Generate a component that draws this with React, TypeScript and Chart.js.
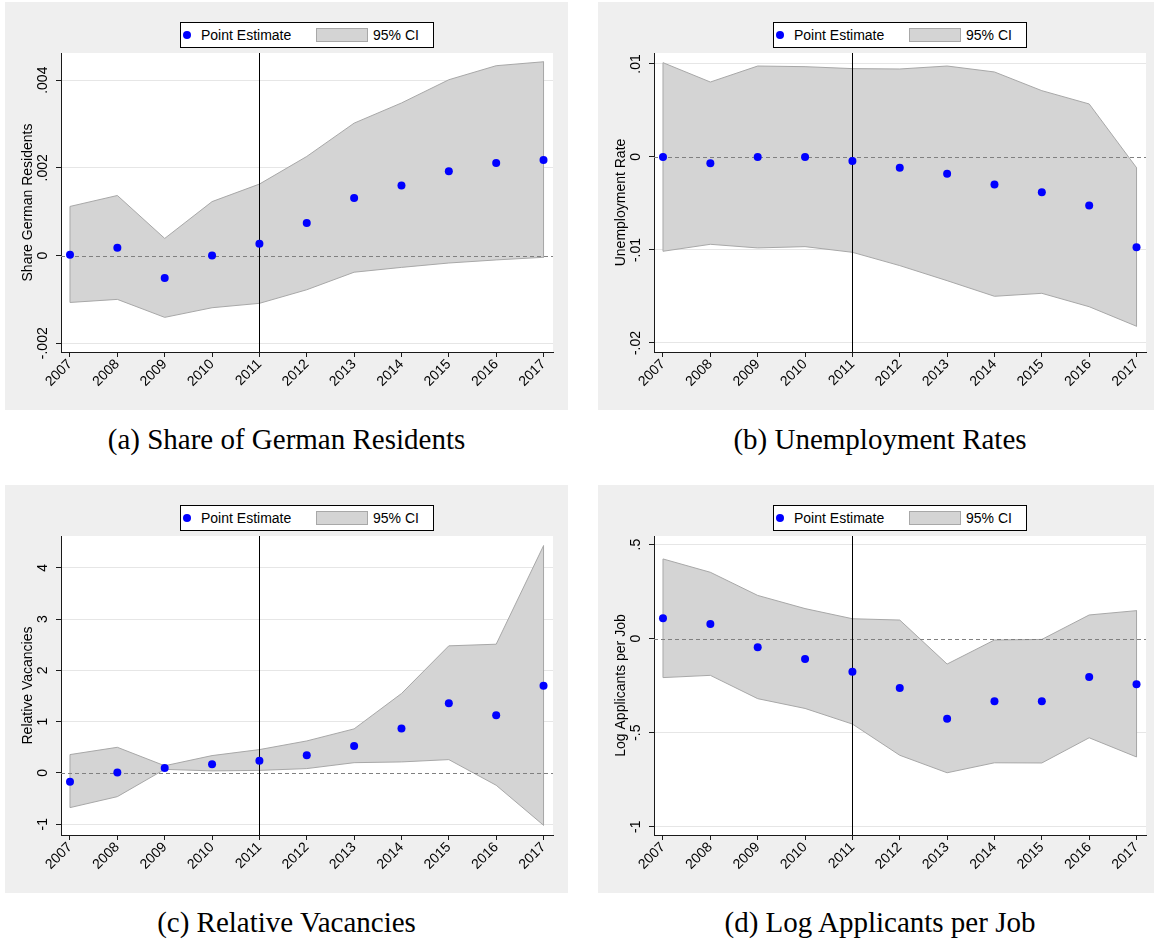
import React, { useEffect, useRef } from "react";
import { Chart, registerables } from "chart.js";

Chart.register(...registerables);

// ---------------- data ----------------
const YEARS = [2007, 2008, 2009, 2010, 2011, 2012, 2013, 2014, 2015, 2016, 2017];
const EVENT_YEAR = 2011;
const X_RANGE = [2006.81, 2017.2];

const SHARE_EST = [0.00002, 0.00018, -0.00051, 0.0, 0.00027, 0.00074, 0.00131, 0.0016, 0.00192, 0.00211, 0.00218];
const SHARE_HI = [0.00112, 0.00137, 0.00039, 0.00123, 0.00163, 0.00226, 0.00302, 0.00348, 0.00401, 0.00433, 0.00442];
const SHARE_LO = [-0.00107, -0.001, -0.00141, -0.00119, -0.00109, -0.00078, -0.00038, -0.00027, -0.00017, -0.0001, -0.00004];
const SHARE_TICKS = [-0.002, 0, 0.002, 0.004];
const SHARE_RANGE = [-0.0022, 0.00462];

const UNEMP_EST = [0, -0.00068, 0, 0, -0.00043, -0.00115, -0.0018, -0.00297, -0.0038, -0.00523, -0.0097];
const UNEMP_HI = [0.01014, 0.00806, 0.00978, 0.00971, 0.0095, 0.00946, 0.00978, 0.00914, 0.00713, 0.0057, -0.00115];
const UNEMP_LO = [-0.01014, -0.00939, -0.00978, -0.00964, -0.01025, -0.01168, -0.0133, -0.01498, -0.01466, -0.0161, -0.0182];
const UNEMP_TICKS = [-0.02, -0.01, 0, 0.01];
const UNEMP_RANGE = [-0.02097, 0.01118];

const VAC_EST = [-0.17, 0.007, 0.098, 0.169, 0.24, 0.345, 0.527, 0.865, 1.36, 1.125, 1.7];
const VAC_HI = [0.358, 0.5, 0.14, 0.338, 0.455, 0.624, 0.859, 1.548, 2.478, 2.51, 4.43];
const VAC_LO = [-0.676, -0.462, 0.07, 0.04, 0.05, 0.085, 0.2, 0.215, 0.26, -0.24, -1.02];
const VAC_TICKS = [-1, 0, 1, 2, 3, 4];
const VAC_RANGE = [-1.21, 4.62];

const APP_EST = [0.108, 0.078, -0.046, -0.108, -0.176, -0.262, -0.426, -0.333, -0.333, -0.204, -0.243];
const APP_HI = [0.424, 0.353, 0.23, 0.16, 0.106, 0.099, -0.135, -0.007, -0.004, 0.126, 0.149];
const APP_LO = [-0.207, -0.195, -0.319, -0.371, -0.454, -0.62, -0.713, -0.66, -0.661, -0.527, -0.629];
const APP_TICKS = [-1, -0.5, 0, 0.5];
const APP_RANGE = [-1.044, 0.546];

const SERIES_LABEL = "Point Estimate";
const BAND_LABEL = "95% CI";

// ---------------- styles ----------------
const SANS = "'Liberation Sans', Arial, Helvetica, sans-serif";
const SERIF = "'Liberation Serif', 'Times New Roman', serif";
const GREY_BG = "#efefef";
const BAND_FILL = "#d4d4d4";
const BAND_EDGE = "#a8a8a8";
const POINT_BLUE = "#0000ff";
const GRID = "#e6e6e6";
const AXIS = "#1a1a1a";
const ZERO_LINE = "#808080";

const TICK_LEN = 5;
const Y_LABEL_OFFSET = 18;
const X_LABEL_DROP = 10;
const Y_AXIS_W = 56;
const X_AXIS_H = 58;
const PLOT_TOP = 51;
const PLOT_W = 492;

const PANELS = [
  { id: "a", est: SHARE_EST, hi: SHARE_HI, lo: SHARE_LO, ticks: SHARE_TICKS, range: SHARE_RANGE,
    yTitle: "Share German Residents", caption: "(a) Share of German Residents",
    left: 5, top: 2, width: 563, height: 408, capLeft: 5, capWidth: 563, capTop: 421 },
  { id: "b", est: UNEMP_EST, hi: UNEMP_HI, lo: UNEMP_LO, ticks: UNEMP_TICKS, range: UNEMP_RANGE,
    yTitle: "Unemployment Rate", caption: "(b) Unemployment Rates",
    left: 598, top: 2, width: 556, height: 408, capLeft: 598, capWidth: 564, capTop: 421 },
  { id: "c", est: VAC_EST, hi: VAC_HI, lo: VAC_LO, ticks: VAC_TICKS, range: VAC_RANGE,
    yTitle: "Relative Vacancies", caption: "(c) Relative Vacancies",
    left: 5, top: 485, width: 563, height: 408, capLeft: 5, capWidth: 563, capTop: 904 },
  { id: "d", est: APP_EST, hi: APP_HI, lo: APP_LO, ticks: APP_TICKS, range: APP_RANGE,
    yTitle: "Log Applicants per Job", caption: "(d) Log Applicants per Job",
    left: 598, top: 485, width: 556, height: 408, capLeft: 598, capWidth: 564, capTop: 904 },
];

function stataLabel(v: number): string {
  return String(v).replace(/^(-?)0\./, "$1.");
}

function measureWidest(labels: string[], font: string): number {
  const c = document.createElement("canvas").getContext("2d");
  if (!c) return 0;
  c.font = font;
  return Math.max(...labels.map((l) => c.measureText(l).width));
}

const bgPlugin = {
  id: "stataBg",
  beforeDraw(chart: any) {
    const { ctx, chartArea, width, height } = chart;
    ctx.save();
    ctx.fillStyle = GREY_BG;
    ctx.fillRect(0, 0, width, height);
    ctx.fillStyle = "#ffffff";
    ctx.fillRect(chartArea.left, chartArea.top, chartArea.right - chartArea.left, chartArea.bottom - chartArea.top);
    ctx.restore();
  },
};

const refLinesPlugin = {
  id: "refLines",
  afterDatasetDraw(chart: any, args: any) {
    if (args.index !== 1) return;
    const { ctx, chartArea } = chart;
    const y0 = Math.round(chart.scales.y.getPixelForValue(0)) + 0.5;
    const xe = Math.round(chart.scales.x.getPixelForValue(EVENT_YEAR)) + 0.5;
    ctx.save();
    ctx.lineWidth = 1;
    ctx.strokeStyle = ZERO_LINE;
    ctx.setLineDash([4, 3]);
    ctx.beginPath();
    ctx.moveTo(chartArea.left, y0);
    ctx.lineTo(chartArea.right, y0);
    ctx.stroke();
    ctx.setLineDash([]);
    ctx.strokeStyle = "#000000";
    ctx.beginPath();
    ctx.moveTo(xe, chartArea.top);
    ctx.lineTo(xe, chartArea.bottom);
    ctx.stroke();
    ctx.restore();
  },
};

// x tick labels at exactly 45 degrees, anchored at each tick of the x scale
const xLabelsPlugin = {
  id: "xLabels45",
  afterDraw(chart: any) {
    const { ctx, chartArea } = chart;
    const xs = chart.scales.x;
    ctx.save();
    ctx.fillStyle = "#000";
    ctx.font = `14px ${SANS}`;
    ctx.textAlign = "right";
    ctx.textBaseline = "middle";
    for (const t of xs.ticks) {
      const px = xs.getPixelForValue(t.value);
      ctx.save();
      ctx.translate(px, chartArea.bottom + X_LABEL_DROP);
      ctx.rotate(-Math.PI / 4);
      ctx.fillText(String(t.value), 0, 0);
      ctx.restore();
    }
    ctx.restore();
  },
};

function LegendBox({ centerX }: { centerX: number }) {
  const W = 254;
  const H = 26;
  return (
    <div
      style={{
        position: "absolute", left: centerX - W / 2, top: 20, width: W, height: H,
        boxSizing: "border-box", border: "1px solid #000", background: "#fff",
        fontFamily: SANS, fontSize: 14, color: "#000",
      }}
    >
      <span style={{ position: "absolute", left: 2, top: 8, width: 8, height: 8, borderRadius: "50%", background: POINT_BLUE }} />
      <span style={{ position: "absolute", left: 20, top: 0, lineHeight: "24px", whiteSpace: "nowrap" }}>{SERIES_LABEL}</span>
      <span style={{ position: "absolute", left: 135, top: 5, width: 52, height: 14, boxSizing: "border-box", background: BAND_FILL, border: `1px solid ${BAND_EDGE}` }} />
      <span style={{ position: "absolute", left: 192, top: 0, lineHeight: "24px", whiteSpace: "nowrap" }}>{BAND_LABEL}</span>
    </div>
  );
}

function Panel({ p }: { p: any }) {
  const ref = useRef<HTMLCanvasElement>(null);
  useEffect(() => {
    const canvas = ref.current;
    if (!canvas) return;
    const tickFont = { family: SANS, size: 14 };
    const widest = measureWidest(p.ticks.map(stataLabel), `14px ${SANS}`);
    const yPad = Y_LABEL_OFFSET - TICK_LEN - widest / 2;
    const pointData = YEARS.map((x, i) => ({ x, y: p.est[i] }));
    const bandData = [
      ...YEARS.map((x, i) => ({ x, y: p.hi[i] })),
      ...YEARS.map((x, i) => ({ x, y: p.lo[i] })).reverse(),
    ];
    bandData.push(bandData[0]);
    const rightPad = p.width - Y_AXIS_W - PLOT_W;

    const chart = new Chart(canvas, {
      type: "line",
      data: {
        datasets: [
          {
            label: SERIES_LABEL, data: pointData, showLine: false,
            pointRadius: 4, pointHoverRadius: 4, pointBackgroundColor: POINT_BLUE,
            pointBorderColor: POINT_BLUE, pointBorderWidth: 0, order: 0,
          },
          {
            label: BAND_LABEL, data: bandData, fill: "shape", backgroundColor: BAND_FILL,
            borderColor: BAND_EDGE, borderWidth: 1, pointRadius: 0, pointHoverRadius: 0,
            tension: 0, order: 1,
          },
        ],
      } as any,
      options: {
        responsive: false,
        animation: false,
        devicePixelRatio: 1,
        events: [],
        layout: { padding: { left: 0, top: PLOT_TOP, right: rightPad, bottom: 0 } },
        plugins: { legend: { display: false }, tooltip: { enabled: false } },
        scales: {
          x: {
            type: "linear",
            min: X_RANGE[0],
            max: X_RANGE[1],
            afterBuildTicks: (s: any) => { s.ticks = YEARS.map((v) => ({ value: v })); },
            afterFit: (s: any) => { s.height = X_AXIS_H; },
            ticks: { display: false, autoSkip: false, callback: (v: any) => String(v) },
            grid: { drawOnChartArea: false, drawTicks: true, tickLength: TICK_LEN, color: AXIS, tickColor: AXIS },
            border: { display: true, color: AXIS, width: 1 },
          },
          y: {
            type: "linear",
            min: p.range[0],
            max: p.range[1],
            afterBuildTicks: (s: any) => { s.ticks = p.ticks.map((v: number) => ({ value: v })); },
            afterFit: (s: any) => { s.width = Y_AXIS_W; },
            ticks: {
              minRotation: 90, maxRotation: 90, crossAlign: "center", padding: yPad,
              color: "#000", font: tickFont, callback: (v: any) => stataLabel(Number(v)),
            },
            grid: {
              color: (c: any) => (c.tick && c.tick.value === 0 ? "rgba(0,0,0,0)" : GRID),
              tickColor: AXIS, tickLength: TICK_LEN, lineWidth: 1,
            },
            border: { display: true, color: AXIS, width: 1 },
            title: {
              display: true, text: p.yTitle, color: "#000", font: { family: SANS, size: 14 },
              padding: { top: 15, bottom: 0 },
            },
          },
        },
      } as any,
      plugins: [bgPlugin, refLinesPlugin, xLabelsPlugin],
    });
    return () => chart.destroy();
  }, [p]);

  return (
    <>
      <div style={{ position: "absolute", left: p.left, top: p.top, width: p.width, height: p.height, background: GREY_BG }}>
        <canvas ref={ref} width={p.width} height={p.height} style={{ display: "block", width: p.width, height: p.height }} />
        <LegendBox centerX={Y_AXIS_W + PLOT_W / 2} />
      </div>
      <div
        style={{
          position: "absolute", left: p.capLeft, top: p.capTop, width: p.capWidth, textAlign: "center",
          fontFamily: SERIF, fontSize: 29, lineHeight: "36px", color: "#000", whiteSpace: "nowrap",
        }}
      >
        {p.caption}
      </div>
    </>
  );
}

export default function App() {
  return (
    <div style={{ position: "absolute", left: 0, top: 0, width: 1154, height: 940, background: "#fff", overflow: "hidden" }}>
      {PANELS.map((p) => (
        <Panel key={p.id} p={p} />
      ))}
    </div>
  );
}
